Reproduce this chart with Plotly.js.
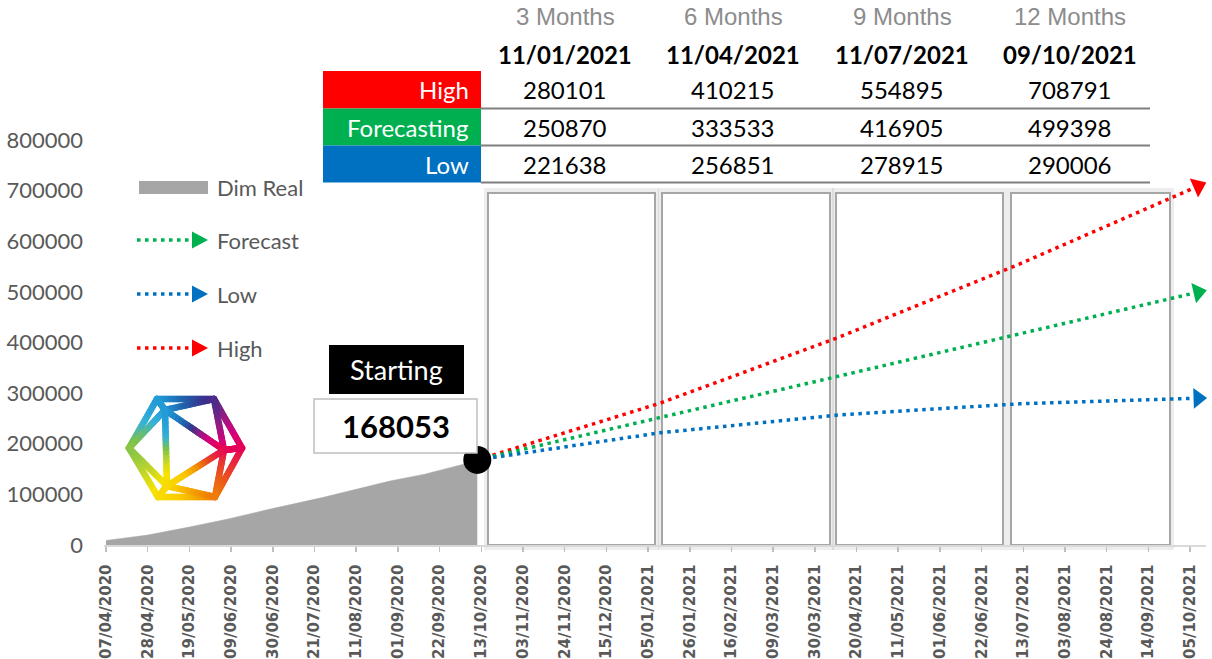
<!DOCTYPE html>
<html><head><meta charset="utf-8">
<script src="https://cdn.plot.ly/plotly-3.0.1.min.js"></script>
<style>html,body{margin:0;padding:0;background:#fff}#chart{width:1212px;height:659px}</style>
</head><body><div id="chart"></div>
<script>
// ---------- DATA ----------
const realDates  = ['2020-04-07','2020-04-28','2020-05-19','2020-06-07','2020-06-27','2020-07-08','2020-07-25','2020-08-11','2020-08-28','2020-09-14','2020-10-01','2020-10-07','2020-10-11'];
const realValues = [9000,19600,35500,51000,69400,78600,93700,110000,126300,139500,155800,162400,168053];

const forecastDates  = ['2020-10-11','2021-01-11','2021-04-11','2021-07-11','2021-10-09'];
const highValues     = [168053,280101,410215,554895,708791];
const forecastValues = [168053,250870,333533,416905,499398];
const lowValues      = [168053,221638,256851,278915,290006];

const periodLabels = ['3 Months','6 Months','9 Months','12 Months'];
const periodDates  = ['11/01/2021','11/04/2021','11/07/2021','09/10/2021'];
const rowNames     = ['High','Forecasting','Low'];
const legendNames  = ['Dim Real','Forecast','Low','High'];
const startLabel   = 'Starting';
const startValue   = 168053;

const tickLabels = ['07/04/2020','28/04/2020','19/05/2020','09/06/2020','30/06/2020','21/07/2020','11/08/2020','01/09/2020','22/09/2020','13/10/2020','03/11/2020','24/11/2020','15/12/2020','05/01/2021','26/01/2021','16/02/2021','09/03/2021','30/03/2021','20/04/2021','11/05/2021','01/06/2021','22/06/2021','13/07/2021','03/08/2021','24/08/2021','14/09/2021','05/10/2021'];
const yTicks = [0,100000,200000,300000,400000,500000,600000,700000,800000];

// ---------- STYLE / LAYOUT HELPERS ----------
const RED='#ff0000', GREEN='#00b050', BLUE='#0070c0', GRAY='#a6a6a6', TXT='#595959';
const L=104, R=6, T=140, B=114, W=1212-L-R, H=659-T-B;
const px = x => (x-L)/W;
const py = y => (659-B-y)/H;
const toISO = s => { const p=s.split('/'); return p[2]+'-'+p[1]+'-'+p[0]; };
const dotDash = '3.5px,4.5px';

// ---------- TRACES ----------
function fcTrace(vals, color, name){
  return {x:forecastDates, y:vals, type:'scatter', mode:'lines+markers', name:name, cliponaxis:false,
    line:{color:color, width:3.5, dash:dotDash},
    marker:{symbol:'triangle-up', size:vals.map((v,i)=>i===vals.length-1?18:0), color:color, opacity:1, angleref:'previous', line:{width:0}},
    hoverinfo:'x+y', showlegend:false};
}
const traces = [
  {x:realDates, y:realValues, type:'scatter', mode:'lines', fill:'tozeroy', fillcolor:GRAY,
   line:{color:GRAY, width:0.5}, name:legendNames[0], showlegend:false},
  fcTrace(highValues, RED, legendNames[3]),
  fcTrace(forecastValues, GREEN, legendNames[1]),
  fcTrace(lowValues, BLUE, legendNames[2]),
  {x:[forecastDates[0]], y:[startValue], type:'scatter', mode:'markers', cliponaxis:false,
   marker:{size:28, color:'#000'}, showlegend:false, name:startLabel}
];

// ---------- SHAPES ----------
const shapes = [];
// period boxes
[[488,655],[662,830],[836,1003],[1011,1170]].forEach(b=>{
  shapes.push({type:'rect', xref:'paper', yref:'paper', x0:px(b[0]-1), x1:px(b[1]+1), y0:py(547), y1:py(191),
    line:{color:'rgba(0,0,0,0.07)', width:6}, fillcolor:'rgba(0,0,0,0)', layer:'below'});
  shapes.push({type:'rect', xref:'paper', yref:'paper', x0:px(b[0]), x1:px(b[1]), y0:py(545), y1:py(193),
    line:{color:GRAY, width:2}, fillcolor:'#ffffff', layer:'below'});
});
// table colored cells + row lines
const rowTop=[71,108.5,145.5,182.5];
const rowColors=[RED,GREEN,BLUE];
for(let i=0;i<3;i++){
  shapes.push({type:'rect', xref:'paper', yref:'paper', x0:px(323), x1:px(481), y0:py(rowTop[i+1]), y1:py(rowTop[i]),
    line:{width:0}, fillcolor:rowColors[i]});
  shapes.push({type:'line', xref:'paper', yref:'paper', x0:px(481), x1:px(1150), y0:py(rowTop[i+1]), y1:py(rowTop[i+1]),
    line:{color:'#7f7f7f', width:2}});
}
// legend
shapes.push({type:'rect', xref:'paper', yref:'paper', x0:px(139), x1:px(208), y0:py(194), y1:py(181), line:{width:0}, fillcolor:GRAY});
const legY=[240,294,348], legC=[GREEN,BLUE,RED];
legY.forEach((y,i)=>{
  shapes.push({type:'line', xref:'paper', yref:'paper', x0:px(137), x1:px(192), y0:py(y), y1:py(y), line:{color:legC[i], width:3.5, dash:dotDash}});
  shapes.push({type:'path', xref:'paper', yref:'paper', path:`M${px(192)},${py(y-8.5)} L${px(208)},${py(y)} L${px(192)},${py(y+8.5)} Z`, fillcolor:legC[i], line:{width:0}});
});
// starting boxes
shapes.push({type:'rect', xref:'paper', yref:'paper', x0:px(329), x1:px(464), y0:py(394), y1:py(345), line:{width:0}, fillcolor:'#000'});
shapes.push({type:'rect', xref:'paper', yref:'paper', x0:px(314), x1:px(477), y0:py(453), y1:py(399), line:{color:'#bfbfbf', width:1.5}, fillcolor:'#fff'});

// ---------- ANNOTATIONS ----------
const ann = [];
const colX=[565,733,902,1070];
const rowVals=[highValues, forecastValues, lowValues];
const rowYc=[90,127,164];
const A = (x,y,text,font,xanchor)=>ann.push({xref:'paper', yref:'paper', x:px(x), y:py(y), text:text, showarrow:false, xanchor:xanchor||'center', yanchor:'middle', font:font});
colX.forEach((x,j)=>{
  A(x,17,periodLabels[j],{family:'Liberation Sans, Arial', size:24, color:'#8c8c8c'});
  A(x,54,'<b>'+periodDates[j]+'</b>',{family:'Lato', size:24, color:'#000'});
  for(let i=0;i<3;i++) A(x,rowYc[i],String(rowVals[i][j+1]),{family:'Lato', size:24, color:'#000'});
});
for(let i=0;i<3;i++) A(471,rowYc[i],rowNames[i],{family:'Lato', size:24, color:'#fff'},'right');
// legend labels
[187,240,294,348].forEach((y,i)=>A(215,y,legendNames[i],{family:'Lato', size:22, color:TXT},'left'));
// starting
A(396,369,startLabel,{family:'Lato', size:27, color:'#fff'});
A(396,426,'<b>'+startValue+'</b>',{family:'Lato', size:31, color:'#000'});

// ---------- LOGO ----------
function logoSrc(){
  const P={TL:[37,9],TR:[94,9],R:[122,58],BR:[95,107],BL:[38,107],L:[9,58],A:[45,20],B:[104,60],C:[47,96]};
  const E=[['TL','TR'],['TR','R'],['R','BR'],['BR','BL'],['BL','L'],['L','TL'],['A','L'],['A','TL'],['A','TR'],['B','TR'],['B','R'],['B','BR'],['C','BR'],['C','BL'],['C','L'],['A','B'],['B','C'],['C','A']];
  const stops=[[0,'#e5005a'],[40,'#e9501e'],[70,'#f29100'],[100,'#fbc900'],[130,'#f6e300'],[160,'#b2d235'],[185,'#7dc24a'],[215,'#35b1d9'],[245,'#1e96d5'],[270,'#1f63ad'],[295,'#3b2f8a'],[320,'#8c1e83'],[345,'#d4007a'],[360,'#e5005a']];
  const hx=h=>[1,3,5].map(k=>parseInt(h.substr(k,2),16));
  function col(a){
    for(let i=0;i<stops.length-1;i++){
      if(a>=stops[i][0]&&a<=stops[i+1][0]){
        const t=(a-stops[i][0])/(stops[i+1][0]-stops[i][0]);
        const c0=hx(stops[i][1]), c1=hx(stops[i+1][1]);
        return 'rgb('+c0.map((v,k)=>Math.round(v+(c1[k]-v)*t)).join(',')+')';
      }
    }
    return stops[0][1];
  }
  const cx=66, cy=58;
  let s='<svg xmlns="http://www.w3.org/2000/svg" width="130" height="115" viewBox="0 0 130 115">';
  E.forEach(e=>{
    const p0=P[e[0]], p1=P[e[1]], N=18;
    for(let i=0;i<N;i++){
      const a0=[p0[0]+(p1[0]-p0[0])*i/N, p0[1]+(p1[1]-p0[1])*i/N];
      const a1=[p0[0]+(p1[0]-p0[0])*(i+1)/N, p0[1]+(p1[1]-p0[1])*(i+1)/N];
      let ang=Math.atan2((a0[1]+a1[1])/2-cy,(a0[0]+a1[0])/2-cx)*180/Math.PI; if(ang<0) ang+=360;
      s+=`<line x1="${a0[0].toFixed(2)}" y1="${a0[1].toFixed(2)}" x2="${a1[0].toFixed(2)}" y2="${a1[1].toFixed(2)}" stroke="${col(ang)}" stroke-width="6.5" stroke-linecap="round"/>`;
    }
  });
  s+='</svg>';
  return 'data:image/svg+xml;base64,'+btoa(s);
}

const layout = {
  width:1212, height:659, margin:{l:L, r:R, t:T, b:B},
  paper_bgcolor:'#fff', plot_bgcolor:'rgba(0,0,0,0)',
  showlegend:false,
  xaxis:{type:'date', range:['2020-04-06','2021-10-13'], tickvals:tickLabels.map(toISO), ticktext:tickLabels,
    tickangle:-90, ticks:'outside', ticklen:5, tickwidth:1.5, tickcolor:'#bfbfbf', ticklabelstandoff:7,
    showline:true, linecolor:'#d9d9d9', linewidth:1.5, showgrid:false, zeroline:false,
    tickfont:{family:'DejaVu Sans', size:15, color:TXT, weight:'bold'}},
  yaxis:{range:[0,800000], tickvals:yTicks, ticktext:yTicks.map(String), showgrid:false, zeroline:false, showline:false,
    ticks:'', ticklabelstandoff:20, tickfont:{family:'Lato', size:22, color:TXT}},
  shapes:shapes, annotations:ann,
  images:[{source:logoSrc(), xref:'paper', yref:'paper', x:px(120), y:py(390), sizex:130/W, sizey:115/H, xanchor:'left', yanchor:'top', sizing:'stretch', layer:'above'}]
};
Plotly.newPlot('chart', traces, layout, {displayModeBar:false, staticPlot:true});
</script></body></html>
